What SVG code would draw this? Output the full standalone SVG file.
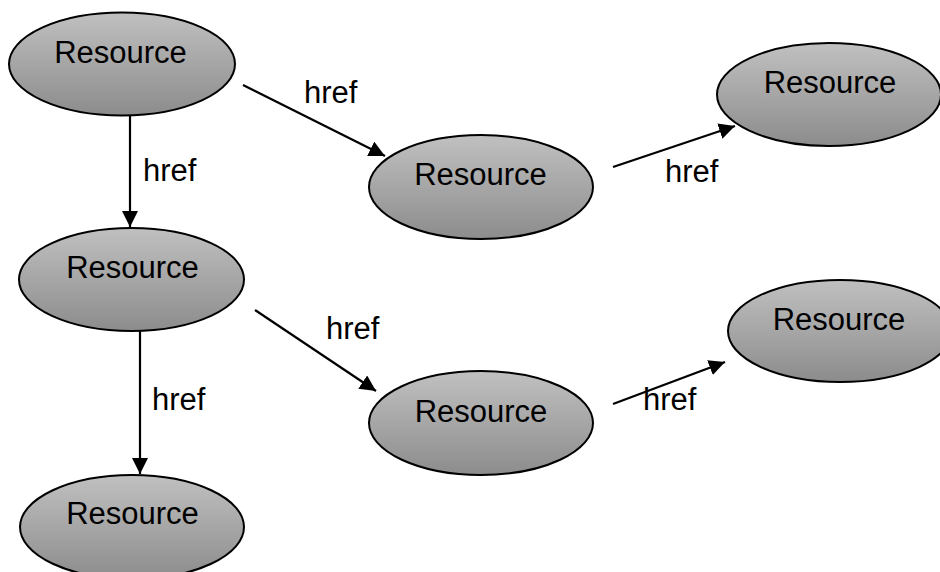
<svg xmlns="http://www.w3.org/2000/svg" width="940" height="572" viewBox="0 0 940 572">
  <defs>
    <linearGradient id="nodeFill" x1="0" y1="0" x2="0" y2="1">
      <stop offset="0" stop-color="#c0c0c0"/>
      <stop offset="1" stop-color="#8c8c8c"/>
    </linearGradient>
    <marker id="arrow" markerUnits="userSpaceOnUse" markerWidth="17" markerHeight="17" refX="16" refY="8" orient="auto">
      <path d="M0,0 L16,8 L0,16 Z" fill="#000"/>
    </marker>
  </defs>
  <style>
    .node ellipse { fill: url(#nodeFill); stroke: #000; stroke-width: 2; }
    .node text { font-family: "Liberation Sans", Arial, sans-serif; font-size: 31px; fill: #000; text-anchor: middle; }
    .edge line { stroke: #000; stroke-width: 2.2; marker-end: url(#arrow); }
    .label { font-family: "Liberation Sans", Arial, sans-serif; font-size: 31px; fill: #000; }
  </style>
  <rect width="940" height="572" fill="#fff"/>

  <g id="connectors" class="edge">
    <line x1="130" y1="115" x2="130" y2="227"/>
    <line x1="140" y1="331" x2="140" y2="474"/>
    <line x1="243" y1="85" x2="385" y2="156"/>
    <line x1="613" y1="167" x2="735" y2="126"/>
    <line x1="255" y1="310" x2="376" y2="391"/>
    <line x1="613" y1="404" x2="725" y2="362"/>
  </g>

  <g id="connector-labels">
    <text class="label" x="143" y="181">href</text>
    <text class="label" x="152" y="410">href</text>
    <text class="label" x="304" y="103">href</text>
    <text class="label" x="665" y="182">href</text>
    <text class="label" x="326" y="339">href</text>
    <text class="label" x="643" y="410">href</text>
  </g>

  <g id="node-1" class="node">
    <ellipse cx="122" cy="64" rx="113" ry="51.5"/>
    <text x="120.5" y="63">Resource</text>
  </g>
  <g id="node-2" class="node">
    <ellipse cx="481" cy="187" rx="112" ry="52"/>
    <text x="480.5" y="185">Resource</text>
  </g>
  <g id="node-3" class="node">
    <ellipse cx="829" cy="94.5" rx="112" ry="51.5"/>
    <text x="830" y="93">Resource</text>
  </g>
  <g id="node-4" class="node">
    <ellipse cx="131.5" cy="279.5" rx="112.5" ry="51.5"/>
    <text x="132.5" y="278">Resource</text>
  </g>
  <g id="node-5" class="node">
    <ellipse cx="481" cy="423" rx="112" ry="52"/>
    <text x="481" y="422">Resource</text>
  </g>
  <g id="node-6" class="node">
    <ellipse cx="840" cy="331" rx="112" ry="51"/>
    <text x="839" y="330">Resource</text>
  </g>
  <g id="node-7" class="node">
    <ellipse cx="132" cy="527" rx="112" ry="52"/>
    <text x="132.5" y="524">Resource</text>
  </g>
</svg>
